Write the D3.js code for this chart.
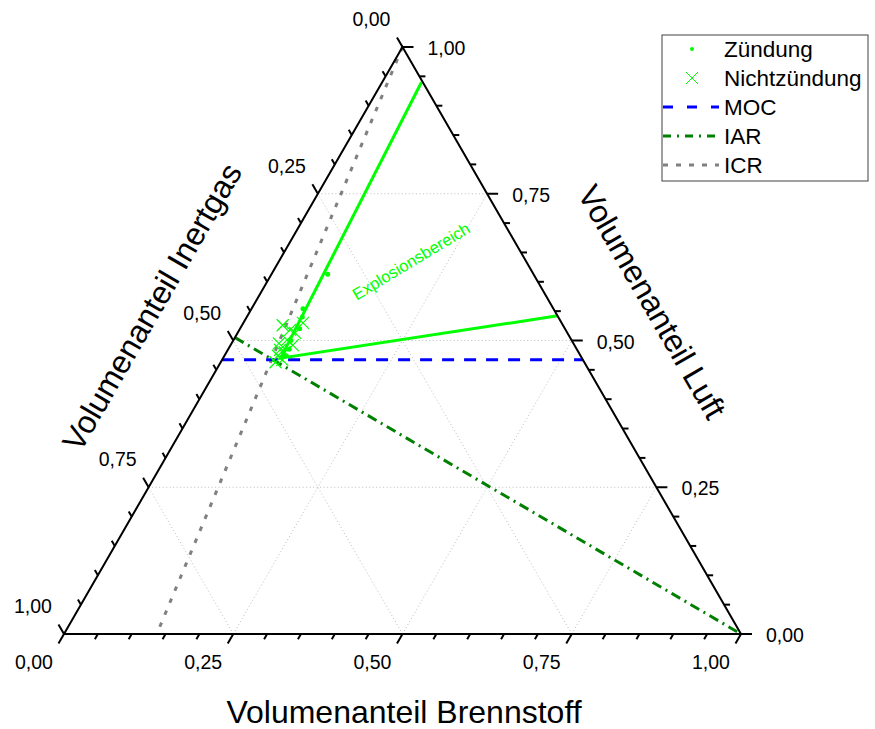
<!DOCTYPE html>
<html>
  <head>
    <meta charset="utf-8">
    <script src="https://d3js.org/d3.v7.min.js"></script>
    <style>
      body { margin: 0; background: #fff; }
      svg { font-family: "Liberation Sans", Arial, sans-serif; }
    </style>
  </head>
  <body>
    <script>
      // ternary values: B = Brennstoff, L = Luft (Inertgas = 1 - B - L)
      const tickValues = [0, 0.25, 0.5, 0.75, 1]
      const tickLabels = ["0,00", "0,25", "0,50", "0,75", "1,00"]

      const zuendungB = [0.083, 0.076, 0.085, 0.088, 0.090, 0.087, 0.082]
      const zuendungL = [0.613, 0.554, 0.500, 0.520, 0.485, 0.475, 0.540]

      const nichtB = [0.060, 0.075, 0.085, 0.079, 0.092, 0.077, 0.086, 0.079, 0.089, 0.081, 0.070, 0.088]
      const nichtL = [0.526, 0.518, 0.513, 0.501, 0.492, 0.484, 0.480, 0.474, 0.467, 0.463, 0.495, 0.530]

      const explosionB = [0.058, 0.085, 0.458]
      const explosionL = [0.940, 0.470, 0.542]

      const mocL = 0.467
      const iarB = [0, 1]
      const iarL = [0.505, 0]
      const icrB = [0, 0.137]
      const icrL = [1, 0]

      const w = 875
      const h = 729

      const xScale = d3.scaleLinear().domain([0, 1]).range([64, 741])
      const yScale = d3.scaleLinear().domain([0, 1]).range([634, 47])
      const px = (b, l) => xScale(b + l / 2)
      const py = (b, l) => yScale(l)

      const svg = d3.select("body").append("svg")
        .attr("width", w)
        .attr("height", h)

      // dotted grid
      const grid = svg.append("g")
      const gridLines = []
      tickValues.slice(1, 4).forEach(t => {
        gridLines.push([[t, 0], [t, 1 - t]])
        gridLines.push([[0, t], [1 - t, t]])
        gridLines.push([[1 - t, 0], [0, 1 - t]])
      })
      grid.selectAll("line").data(gridLines).enter().append("line")
        .attr("x1", d => px(d[0][0], d[0][1]))
        .attr("y1", d => py(d[0][0], d[0][1]))
        .attr("x2", d => px(d[1][0], d[1][1]))
        .attr("y2", d => py(d[1][0], d[1][1]))
        .attr("stroke", "#bdbdbd")
        .attr("stroke-width", 1)
        .attr("stroke-dasharray", "1,2.5")

      const line = d3.line().x(d => px(d[0], d[1])).y(d => py(d[0], d[1]))

      // ICR
      svg.append("path")
        .attr("d", line(d3.zip(icrB, icrL)))
        .attr("fill", "none").attr("stroke", "#808080")
        .attr("stroke-width", 3).attr("stroke-dasharray", "4.5,8.5")
      // IAR
      svg.append("path")
        .attr("d", line(d3.zip(iarB, iarL)))
        .attr("fill", "none").attr("stroke", "#008000")
        .attr("stroke-width", 3).attr("stroke-dasharray", "10,5,2,5")
      // MOC
      svg.append("path")
        .attr("d", line([[0, mocL], [1 - mocL, mocL]]))
        .attr("fill", "none").attr("stroke", "#0000ff")
        .attr("stroke-width", 3).attr("stroke-dasharray", "12,10")
      // explosion range
      svg.append("path")
        .attr("d", line(d3.zip(explosionB, explosionL)))
        .attr("fill", "none").attr("stroke", "#00ff00")
        .attr("stroke-width", 3)

      svg.append("text")
        .attr("transform", "translate(411,261) rotate(-31)")
        .attr("text-anchor", "middle")
        .attr("dominant-baseline", "central")
        .attr("font-size", 16.5)
        .attr("fill", "#00ff00")
        .text("Explosionsbereich")

      // points
      svg.selectAll(".nicht").data(d3.zip(nichtB, nichtL)).enter().append("path")
        .attr("class", "nicht")
        .attr("d", d => {
          const x = px(d[0], d[1]), y = py(d[0], d[1]), s = 6
          return `M${x - s},${y - s}L${x + s},${y + s}M${x - s},${y + s}L${x + s},${y - s}`
        })
        .attr("stroke", "#00ff00").attr("stroke-width", 1.2)
      svg.selectAll(".dot").data(d3.zip(zuendungB, zuendungL)).enter().append("circle")
        .attr("class", "dot")
        .attr("cx", d => px(d[0], d[1]))
        .attr("cy", d => py(d[0], d[1]))
        .attr("r", 2.5)
        .attr("fill", "#00ff00")

      // triangle frame
      const frame = svg.append("g").attr("stroke", "#000").attr("stroke-width", 2).attr("fill", "none")
      frame.append("path")
        .attr("d", line([[0, 0], [1, 0], [0, 1], [0, 0]]))
        .attr("stroke-linejoin", "miter")

      const minor = d3.range(0, 21).map(i => i / 20)
      const axes = [
        { pos: t => [px(t, 0), py(t, 0)], dir: [-0.5, 0.866], lab: [-30, 28] },        // Brennstoff
        { pos: t => [px(1 - t, t), py(1 - t, t)], dir: [1, 0], lab: [44, 1] },         // Luft
        { pos: t => [px(0, 1 - t), py(0, 1 - t)], dir: [-0.5, -0.866], lab: [-31, -28] } // Inertgas
      ]
      axes.forEach(a => {
        minor.forEach((t, i) => {
          const len = i % 5 === 0 ? 11 : 6
          const p = a.pos(t)
          frame.append("line")
            .attr("x1", p[0]).attr("y1", p[1])
            .attr("x2", p[0] + a.dir[0] * len).attr("y2", p[1] + a.dir[1] * len)
        })
        tickValues.forEach((t, i) => {
          const p = a.pos(t)
          svg.append("text")
            .attr("x", p[0] + a.lab[0]).attr("y", p[1] + a.lab[1])
            .attr("text-anchor", "middle")
            .attr("dominant-baseline", "central")
            .attr("font-size", 19.5)
            .text(tickLabels[i])
        })
      })

      // axis titles
      svg.append("text")
        .attr("x", 404).attr("y", 712)
        .attr("text-anchor", "middle").attr("dominant-baseline", "central")
        .attr("font-size", 32)
        .text("Volumenanteil Brennstoff")
      svg.append("text")
        .attr("transform", "translate(652,302) rotate(60)")
        .attr("text-anchor", "middle").attr("dominant-baseline", "central")
        .attr("font-size", 32)
        .text("Volumenanteil Luft")
      svg.append("text")
        .attr("transform", "translate(152,307) rotate(-60)")
        .attr("text-anchor", "middle").attr("dominant-baseline", "central")
        .attr("font-size", 32)
        .text("Volumenanteil Inertgas")

      // legend
      const legend = svg.append("g").attr("transform", "translate(662,35)")
      legend.append("rect")
        .attr("width", 206).attr("height", 146)
        .attr("fill", "#fff").attr("stroke", "#404040").attr("stroke-width", 1)
      const legendNames = ["Zündung", "Nichtzündung", "MOC", "IAR", "ICR"]
      const ly = d3.scalePoint().domain(legendNames).range([14, 130])
      legendNames.forEach(n => {
        legend.append("text")
          .attr("x", 62).attr("y", ly(n))
          .attr("dominant-baseline", "central")
          .attr("font-size", 22.5)
          .text(n)
      })
      legend.append("circle").attr("cx", 30).attr("cy", ly("Zündung")).attr("r", 2).attr("fill", "#00ff00")
      legend.append("path")
        .attr("d", `M24,${ly("Nichtzündung") - 6}l12,12M24,${ly("Nichtzündung") + 6}l12,-12`)
        .attr("stroke", "#00ff00").attr("stroke-width", 1)
      const legendLines = [["MOC", "#0000ff", "10,14"], ["IAR", "#008000", "8,6,2,6"], ["ICR", "#808080", "5,8"]]
      legendLines.forEach(l => {
        legend.append("line")
          .attr("x1", 1).attr("x2", 57)
          .attr("y1", ly(l[0])).attr("y2", ly(l[0]))
          .attr("stroke", l[1]).attr("stroke-width", 3)
          .attr("stroke-dasharray", l[2])
      })
    </script>
  </body>
</html>
